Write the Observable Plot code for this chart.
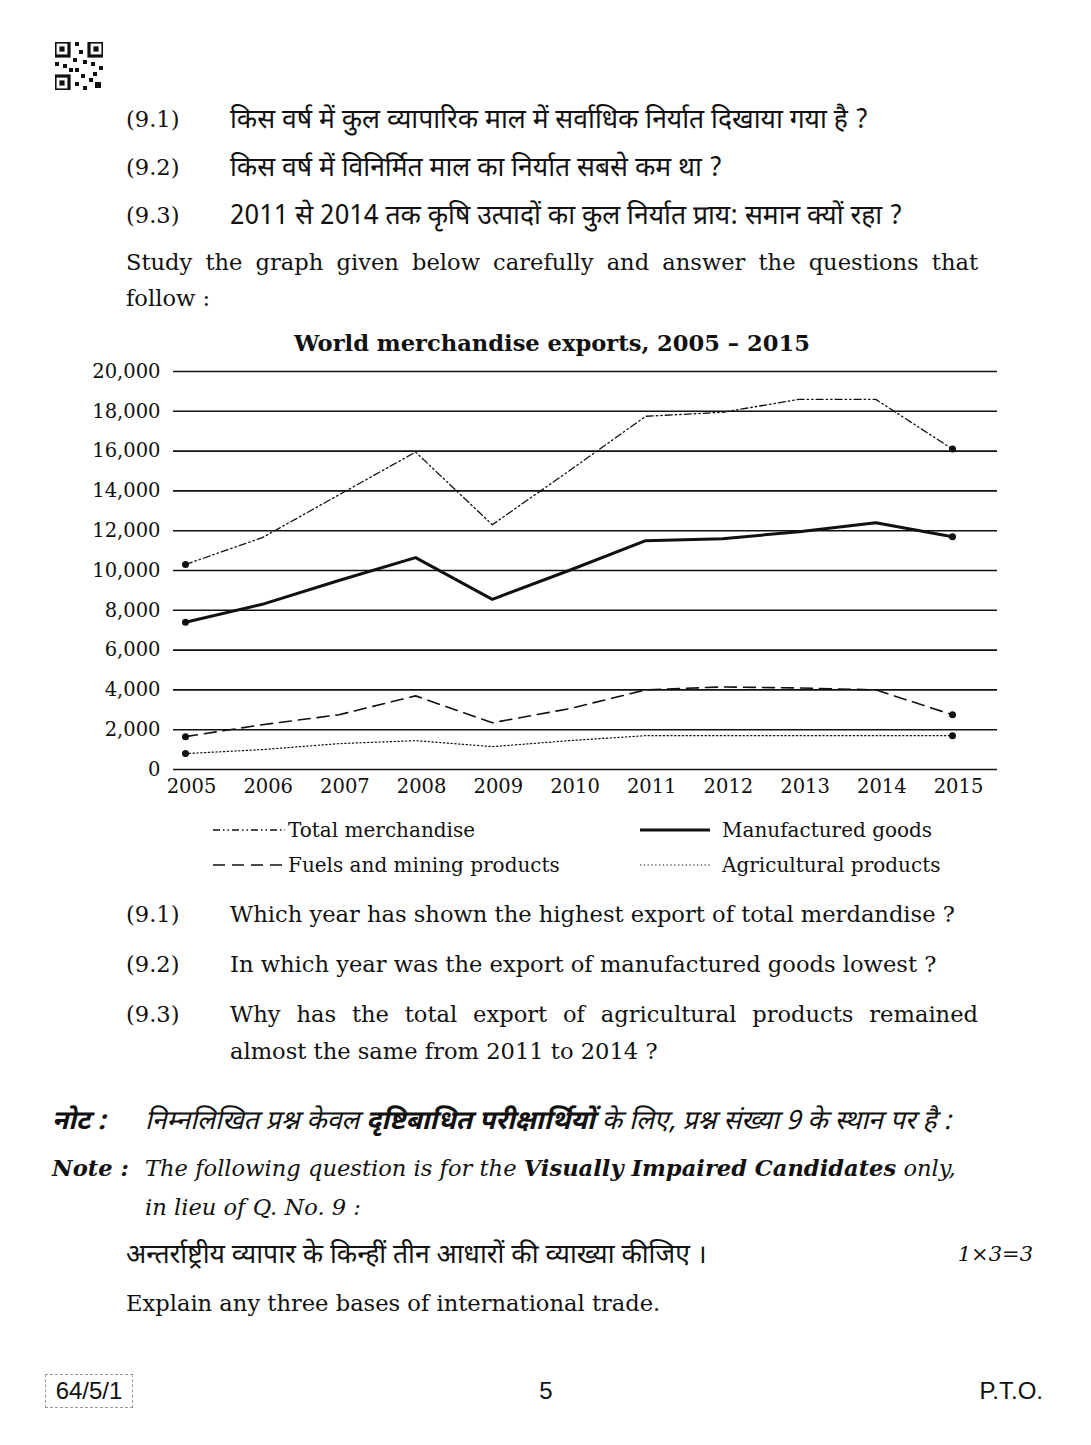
<!DOCTYPE html>
<html><head><meta charset="utf-8">
<script src="https://cdn.jsdelivr.net/npm/d3@7"></script>
<script src="https://cdn.jsdelivr.net/npm/@observablehq/plot@0.6"></script>
<style>
html,body{margin:0;padding:0;background:#fff;}
#page{position:relative;width:1091px;height:1445px;overflow:hidden;font-family:"DejaVu Serif",serif;color:#111;font-size:22.6px;}
.t{position:absolute;white-space:nowrap;line-height:30px;height:30px;}
.hi{font-family:"Noto Sans Devanagari","Noto Serif Devanagari","Lohit Devanagari","Mangal","DejaVu Sans",sans-serif;font-size:26.5px;margin-top:3px;}
.j{text-align:justify;text-align-last:justify;}
.bi{font-weight:bold;font-style:italic;}
.it{font-style:italic;}
.lg{font-size:20px;}
.sans{font-family:"Liberation Sans",Arial,sans-serif;}
#chart{position:absolute;left:0;top:355px;}
.sw{position:absolute;}
</style></head><body><div id="page">

<svg style="position:absolute;left:55px;top:42px" width="48" height="48" viewBox="0 0 12 12">
  <rect x="0" y="0" width="3.5" height="3.5" fill="none" stroke="#111" stroke-width="0.8"/>
  <rect x="1.1" y="1.1" width="1.3" height="1.3" fill="#111"/>
  <rect x="8.5" y="0" width="3.5" height="3.5" fill="none" stroke="#111" stroke-width="0.8"/>
  <rect x="9.6" y="1.1" width="1.3" height="1.3" fill="#111"/>
  <rect x="0" y="8.5" width="3.5" height="3.5" fill="none" stroke="#111" stroke-width="0.8"/>
  <rect x="1.1" y="9.6" width="1.3" height="1.3" fill="#111"/>
  <path d="M5 0h1v1h-1zM6 2h1v1h-1zM4.5 4h1v1h-1zM7 4.5h1v1h-1zM0 5h1v1h-1zM2 5.5h1v1h-1zM9 5h1v1h-1zM11 6h1v1h-1zM5 6.5h1v1h-1zM6.5 8h1v1h-1zM8.5 9h1v1h-1zM10 10h1.5v1.5h-1.5zM5 10h1v1h-1zM7 11h1v1h-1zM3.5 6.5h1v1h-1zM9.5 7.5h1v1h-1z" fill="#111"/>
</svg>

<div class="t" style="left:126px;top:104px">(9.1)</div>
<div class="t hi" style="left:230px;top:104px">किस वर्ष में कुल व्यापारिक माल में सर्वाधिक निर्यात दिखाया गया है ?</div>
<div class="t" style="left:126px;top:152px">(9.2)</div>
<div class="t hi" style="left:230px;top:152px">किस वर्ष में विनिर्मित माल का निर्यात सबसे कम था ?</div>
<div class="t" style="left:126px;top:200px">(9.3)</div>
<div class="t hi" style="left:230px;top:200px">2011 से 2014 तक कृषि उत्पादों का कुल निर्यात प्राय: समान क्यों रहा ?</div>
<div class="t j" style="left:126px;top:247px;width:852px">Study the graph given below carefully and answer the questions that</div>
<div class="t" style="left:126px;top:283px">follow :</div>

<div class="t" style="left:252px;top:328px;width:600px;text-align:center;font-weight:bold">World merchandise exports, 2005 – 2015</div>

<div id="chart"></div>

<svg class="sw" style="left:213px;top:825px" width="72" height="10"><line x1="0" y1="5" x2="72" y2="5" stroke="#111" stroke-width="1.3" stroke-dasharray="7,3,1.5,3,1.5,3"/></svg>
<div class="t lg" style="left:288px;top:815px">Total merchandise</div>
<svg class="sw" style="left:640px;top:825px" width="70" height="10"><line x1="0" y1="5" x2="70" y2="5" stroke="#111" stroke-width="3"/></svg>
<div class="t lg" style="left:722px;top:815px">Manufactured goods</div>
<svg class="sw" style="left:213px;top:860px" width="72" height="10"><line x1="0" y1="5" x2="72" y2="5" stroke="#111" stroke-width="1.6" stroke-dasharray="12,7"/></svg>
<div class="t lg" style="left:288px;top:850px">Fuels and mining products</div>
<svg class="sw" style="left:640px;top:860px" width="72" height="10"><line x1="0" y1="5" x2="72" y2="5" stroke="#111" stroke-width="1.2" stroke-dasharray="1.3,2.5"/></svg>
<div class="t lg" style="left:722px;top:850px">Agricultural products</div>

<div class="t" style="left:126px;top:899px">(9.1)</div>
<div class="t" style="left:230px;top:899px">Which year has shown the highest export of total merdandise ?</div>
<div class="t" style="left:126px;top:949px">(9.2)</div>
<div class="t" style="left:230px;top:949px">In which year was the export of manufactured goods lowest ?</div>
<div class="t" style="left:126px;top:999px">(9.3)</div>
<div class="t j" style="left:230px;top:999px;width:748px">Why has the total export of agricultural products remained</div>
<div class="t" style="left:230px;top:1036px">almost the same from 2011 to 2014 ?</div>

<div class="t bi hi" style="left:52px;top:1105px">नोट :</div>
<div class="t it hi" style="left:145px;top:1105px">निम्नलिखित प्रश्न केवल <b>दृष्टिबाधित परीक्षार्थियों</b> के लिए, प्रश्न संख्या 9 के स्थान पर है :</div>
<div class="t bi" style="left:52px;top:1153px">Note :</div>
<div class="t it" style="left:145px;top:1153px">The following question is for the <b>Visually Impaired Candidates</b> only,</div>
<div class="t it" style="left:145px;top:1192px">in lieu of Q. No. 9 :</div>
<div class="t hi" style="left:126px;top:1239px">अन्तर्राष्ट्रीय व्यापार के किन्हीं तीन आधारों की व्याख्या कीजिए ।</div>
<div class="t it" style="left:933px;top:1239px;width:100px;text-align:right;font-size:21px">1×3=3</div>
<div class="t" style="left:126px;top:1288px">Explain any three bases of international trade.</div>

<div class="sans" style="position:absolute;left:45px;top:1374px;width:86px;height:32px;border:1px dashed #999;font-size:24px;line-height:32px;text-align:center">64/5/1</div>
<div class="t sans" style="left:496px;top:1376px;width:100px;text-align:center;font-size:24px">5</div>
<div class="t sans" style="left:943px;top:1376px;width:100px;text-align:right;font-size:24px">P.T.O.</div>

</div>
<script>
const years = [2005, 2006, 2007, 2008, 2009, 2010, 2011, 2012, 2013, 2014, 2015];
const totalMerchandise = [10300, 11650, 13800, 15950, 12300, 15000, 17750, 17950, 18600, 18600, 16100];
const manufacturedGoods = [7400, 8300, 9500, 10650, 8550, 10000, 11500, 11600, 11950, 12400, 11700];
const fuelsAndMining = [1650, 2250, 2750, 3700, 2350, 3050, 4000, 4150, 4100, 4000, 2750];
const agriculturalProducts = [800, 1000, 1300, 1450, 1150, 1450, 1700, 1700, 1700, 1700, 1700];
const seriesNames = ["Total merchandise", "Manufactured goods", "Fuels and mining products", "Agricultural products"];
const yTicks = [0, 2000, 4000, 6000, 8000, 10000, 12000, 14000, 16000, 18000, 20000];

const seriesValues = [totalMerchandise, manufacturedGoods, fuelsAndMining, agriculturalProducts];
const rows = [];
seriesValues.forEach((vals, i) => vals.forEach((v, j) => rows.push({series: seriesNames[i], year: years[j], value: v})));

const lineStyles = {
  "Total merchandise": {strokeWidth: 1.3, strokeDasharray: "7,3,1.5,3,1.5,3"},
  "Manufactured goods": {strokeWidth: 3},
  "Fuels and mining products": {strokeWidth: 1.6, strokeDasharray: "12,7"},
  "Agricultural products": {strokeWidth: 1.2, strokeDasharray: "1.3,2.5"}
};
const endYears = [years[0], years[years.length - 1]];

const chart = Plot.plot({
  width: 1091,
  height: 449,
  marginLeft: 173,
  marginRight: 94,
  marginTop: 16,
  marginBottom: 35,
  x: {domain: [years[0], years[years.length - 1]], insetLeft: 12, insetRight: 45},
  y: {domain: [0, 20000]},
  style: {fontFamily: "DejaVu Serif", fontSize: "19.5px", color: "#111", background: "transparent", overflow: "visible"},
  marks: [
    Plot.ruleY(yTicks, {stroke: "#111", strokeWidth: 1.6}),
    Plot.axisY({ticks: yTicks, tickFormat: d3.format(","), tickSize: 0, tickPadding: 13, label: null, fontSize: 19.5}),
    Plot.axisX({ticks: years, tickFormat: "d", tickSize: 0, tickPadding: 10, dx: 6, label: null, fontSize: 19.5}),
    ...seriesNames.map(s => Plot.line(rows.filter(d => d.series === s), {x: "year", y: "value", stroke: "#111", ...lineStyles[s]})),
    Plot.dot(rows.filter(d => endYears.includes(d.year)), {x: "year", y: "value", r: 3.5, fill: "#111"})
  ]
});
document.getElementById("chart").appendChild(chart);
</script>
</body></html>
